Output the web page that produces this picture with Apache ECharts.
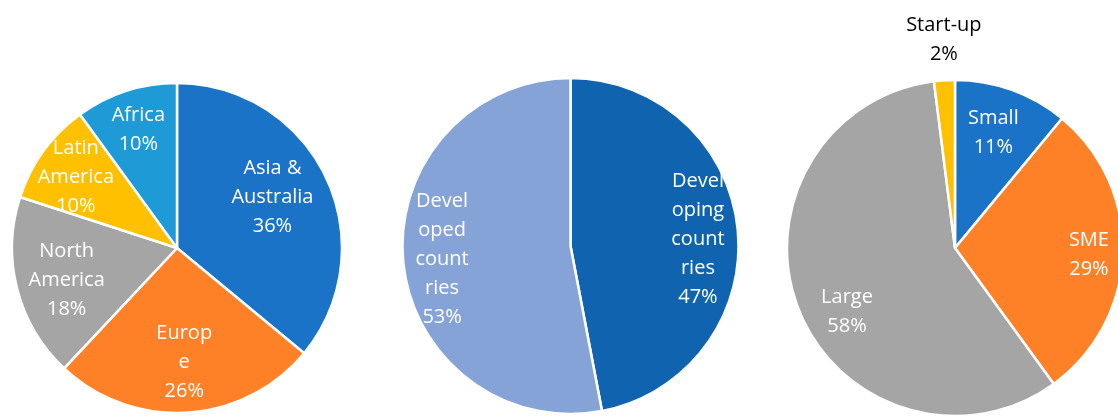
<!DOCTYPE html>
<html>
<head>
<meta charset="utf-8">
<script src="https://cdn.jsdelivr.net/npm/echarts@6/dist/echarts.min.js"></script>
<style>
html,body{margin:0;padding:0;background:#fff;}
#c{width:1118px;height:416px;}
</style>
</head>
<body>
<div id="c"></div>
<script>
// Pie 1: regions
const regionNames = ['Asia & Australia', 'Europe', 'North America', 'Latin America', 'Africa'];
const regionLabels = ['Asia &\nAustralia', 'Europ\ne', 'North\nAmerica', 'Latin\nAmerica', 'Africa'];
const regionShares = [36, 26, 18, 10, 10];
const regionColors = ['#1A73C7', '#FF8127', '#A5A5A5', '#FFC000', '#1E9BD7'];

// Pie 2: development status
const devNames = ['Developing countries', 'Developed countries'];
const devLabels = ['Devel\noping\ncount\nries', 'Devel\noped\ncount\nries'];
const devShares = [47, 53];
const devColors = ['#1063AF', '#86A3D7'];

// Pie 3: company size
const sizeNames = ['Small', 'SME', 'Large', 'Start-up'];
const sizeLabels = ['Small', 'SME', 'Large', 'Start-up'];
const sizeShares = [11, 29, 58, 2];
const sizeColors = ['#1A73C7', '#FF8127', '#A5A5A5', '#FFC000'];

const FONT = "'Open Sans', 'Noto Sans', sans-serif";

// layout: label distance from centre for each slice (px), small label nudges, label colour
const layouts = [
  { center: [177, 248], r: 165, labelR: [108, 112, 113, 122, 122],
    nudge: [[-5, -3], [0, 0], [2, 3], [0, 3], [0, 1]],
    labelColor: ['#fff', '#fff', '#fff', '#fff', '#fff'] },
  { center: [570.5, 246], r: 168, labelR: [127, 128],
    nudge: [[-2, 6], [2, 1]],
    labelColor: ['#fff', '#fff'] },
  { center: [955, 248], r: 168, labelR: [122, 133, 125, 206],
    nudge: [[-4, 2], [-2, 3], [11, 17], [2, 0]],
    labelColor: ['#fff', '#fff', '#fff', '#000'] }
];

function fmt(p) { return p.data.labelText + '\n' + p.value + '%'; }

function pieSeries(lay, names, labels, values, colors) {
  const list = [{
    type: 'pie',
    center: lay.center,
    radius: [0, lay.r],
    startAngle: 90,
    clockwise: true,
    silent: true,
    animation: false,
    avoidLabelOverlap: false,
    itemStyle: { borderColor: '#fff', borderWidth: 2.5 },
    label: { show: false },
    labelLine: { show: false },
    data: names.map((n, i) => ({ name: n, value: values[i], itemStyle: { color: colors[i] } }))
  }];
  // one transparent overlay per slice, so that each label sits at its own distance
  names.forEach((_, k) => {
    const L = lay.labelR[k];
    list.push({
      type: 'pie',
      center: lay.center,
      radius: [L - 20, L + 20],
      startAngle: 90,
      clockwise: true,
      silent: true,
      animation: false,
      avoidLabelOverlap: false,
      minShowLabelAngle: 0,
      labelLayout: { hideOverlap: false },
      itemStyle: { color: 'rgba(0,0,0,0)', borderWidth: 0 },
      label: {
        show: true, position: 'inside', fontFamily: FONT, fontSize: 20, lineHeight: 29,
        color: lay.labelColor[k], formatter: fmt, offset: lay.nudge[k]
      },
      labelLine: { show: false },
      data: names.map((n, i) => ({
        name: n, value: values[i], labelText: labels[i],
        label: { show: i === k }
      }))
    });
  });
  return list;
}

const chart = echarts.init(document.getElementById('c'), null, { renderer: 'canvas' });
chart.setOption({
  backgroundColor: '#fff',
  series: [
    ...pieSeries(layouts[0], regionNames, regionLabels, regionShares, regionColors),
    ...pieSeries(layouts[1], devNames, devLabels, devShares, devColors),
    ...pieSeries(layouts[2], sizeNames, sizeLabels, sizeShares, sizeColors)
  ]
});
</script>
</body>
</html>
